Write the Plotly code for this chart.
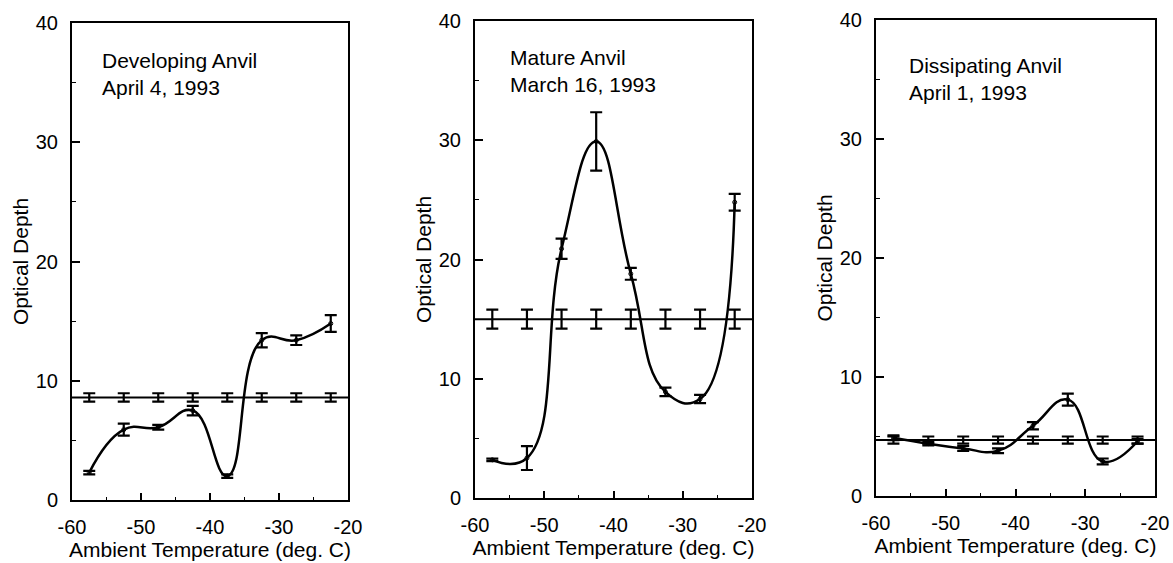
import plotly.graph_objects as go
from plotly.subplots import make_subplots

# ---- data ----
temps = [-57.5, -52.5, -47.5, -42.5, -37.5, -32.5, -27.5, -22.5]
temp_range = [-60, -20]

dev_od = [2.3, 5.9, 6.1, 7.5, 2.0, 13.4, 13.4, 14.8]
dev_err = [0.15, 0.5, 0.2, 0.4, 0.15, 0.6, 0.4, 0.7]
dev_mean = 8.6
dev_mean_err = 0.35

mat_od = [3.2, 3.35, 20.9, 29.9, 18.8, 8.9, 8.3, 24.8]
mat_err = [0.1, 1.0, 0.85, 2.45, 0.5, 0.35, 0.35, 0.7]
mat_mean = 15.0
mat_mean_err = 0.8

dis_od = [4.9, 4.4, 4.0, 3.8, 5.9, 8.1, 2.9, 4.6]
dis_err = [0.2, 0.15, 0.2, 0.2, 0.3, 0.5, 0.25, 0.2]
dis_mean = 4.7
dis_mean_err = 0.3

panel_labels = ["Developing Anvil<br>April 4, 1993",
                "Mature Anvil<br>March 16, 1993",
                "Dissipating Anvil<br>April 1, 1993"]
x_ticks = [-60, -50, -40, -30, -20]
y_ticks = [0, 10, 20, 30, 40]
x_title = "Ambient Temperature (deg. C)"
y_title = "Optical Depth"

panels = [
    (dev_od, dev_err, dev_mean, dev_mean_err),
    (mat_od, mat_err, mat_mean, mat_mean_err),
    (dis_od, dis_err, dis_mean, dis_mean_err),
]

W, H = 1173, 563
FONT = "Liberation Sans, Arial, Helvetica, sans-serif"

# pixel boxes of the three plot areas (left, right, top, bottom)
boxes = [(72, 348, 23, 500), (475, 752, 21, 498), (876, 1155, 20, 496)]
label_pos = [(100, 47), (508, 44), (907, 52)]

fig = make_subplots(rows=1, cols=3)

for i, (od, err, mean, merr) in enumerate(panels):
    col = i + 1
    # mean line across the whole range
    fig.add_trace(go.Scatter(x=temp_range, y=[mean, mean], mode="lines",
                             line=dict(color="black", width=2),
                             showlegend=False, hoverinfo="skip"), row=1, col=col)
    # error bars on mean line
    fig.add_trace(go.Scatter(x=temps, y=[mean] * len(temps), mode="markers",
                             marker=dict(size=1, color="black"),
                             error_y=dict(type="data", array=[merr] * len(temps),
                                          visible=True, color="black",
                                          thickness=2.2, width=6),
                             showlegend=False), row=1, col=col)
    # smoothed curve through measurements
    fig.add_trace(go.Scatter(x=temps, y=od, mode="lines+markers",
                             line=dict(color="black", width=2.5, shape="spline",
                                       smoothing=1.3),
                             marker=dict(symbol="circle-open", size=4, color="black",
                                         line=dict(width=1)),
                             error_y=dict(type="data", array=err, visible=True,
                                          color="black", thickness=2.2, width=6),
                             showlegend=False), row=1, col=col)

fig.update_layout(
    width=W, height=H,
    margin=dict(l=0, r=0, t=0, b=0, autoexpand=False),
    paper_bgcolor="white", plot_bgcolor="white",
    font=dict(family=FONT, size=21, color="black"),
    showlegend=False,
)

for i, (l, r, t, b) in enumerate(boxes):
    xn = "xaxis" if i == 0 else f"xaxis{i+1}"
    yn = "yaxis" if i == 0 else f"yaxis{i+1}"
    fig.layout[xn].update(
        domain=[l / W, r / W], range=temp_range, tickvals=x_ticks,
        ticktext=[str(v) for v in x_ticks], automargin=False,
        ticks="inside", ticklen=7, tickwidth=1.5, tickcolor="black",
        minor=dict(dtick=5, ticks="inside", ticklen=3, tickwidth=1, tickcolor="black"),
        showline=True, linewidth=2, linecolor="black", mirror=True,
        showgrid=False, zeroline=False, ticklabelstandoff=8,
        tickfont=dict(size=20, family=FONT),
        title=dict(text=x_title, font=dict(size=21, family=FONT), standoff=4),
    )
    fig.layout[yn].update(
        domain=[1 - b / H, 1 - t / H], range=[0, 40], tickvals=y_ticks,
        automargin=False,
        ticks="inside", ticklen=8, tickwidth=1.5, tickcolor="black",
        minor=dict(dtick=5, ticks="inside", ticklen=4, tickwidth=1, tickcolor="black"),
        showline=True, linewidth=2, linecolor="black", mirror=True,
        showgrid=False, zeroline=False, ticklabelstandoff=8,
        tickfont=dict(size=20, family=FONT),
        title=dict(text=y_title, font=dict(size=21, family=FONT), standoff=1),
    )
    lx, ly = label_pos[i]
    fig.add_annotation(text=panel_labels[i], xref="paper", yref="paper",
                       x=lx / W, y=1 - ly / H, xanchor="left", yanchor="top",
                       align="left", showarrow=False,
                       font=dict(size=21, family=FONT, color="black"))

fig.write_html("out.html",
               config={"displayModeBar": False},
               post_script="document.body.style.margin='0px';"
                           "document.body.style.overflow='hidden';")
